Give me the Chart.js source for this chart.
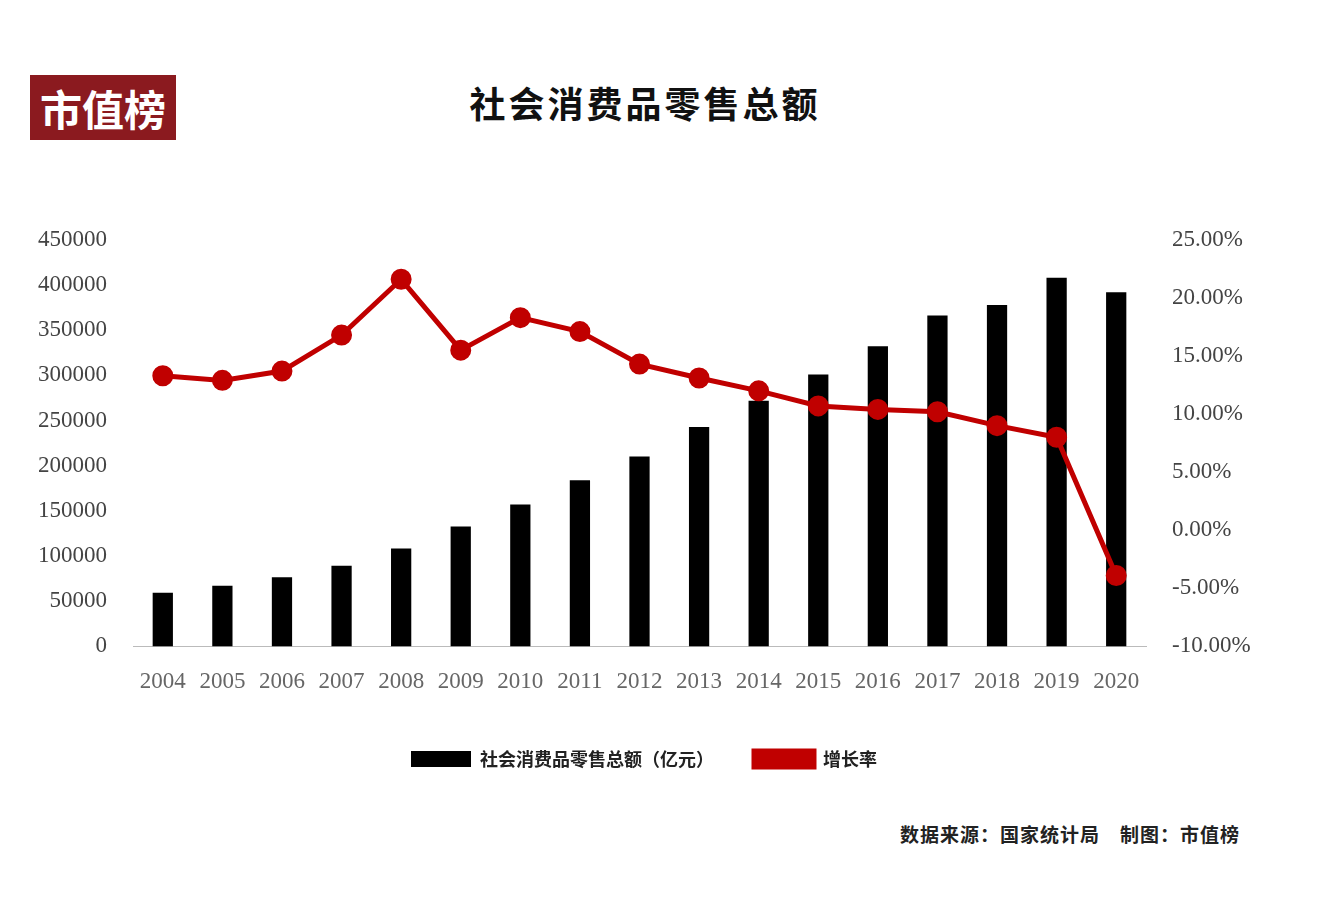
<!DOCTYPE html>
<html><head><meta charset="utf-8">
<script src="https://cdn.jsdelivr.net/npm/chart.js@4/dist/chart.umd.min.js"></script>
<style>
body{margin:0;background:#fff;width:1328px;height:924px;position:relative;overflow:hidden;font-family:"Noto Sans CJK SC",sans-serif}
#logo{position:absolute;left:30px;top:75px;width:146px;height:65px;background:#8b1a1f;color:#fff;font-size:42px;line-height:65px;text-align:center;font-weight:bold}
#title{position:absolute;left:0;width:1290px;top:76px;text-align:center;font-size:36px;font-weight:bold;color:#111;letter-spacing:3px}
#src{position:absolute;right:88px;top:820px;font-size:19px;font-weight:bold;color:#222;letter-spacing:1px}
#wrap{position:absolute;left:0;top:208px;width:1328px;height:570px}
</style></head><body>
<div id="logo">市值榜</div>
<div id="title">社会消费品零售总额</div>
<div id="src">数据来源：国家统计局　制图：市值榜</div>
<div id="wrap"><canvas id="c"></canvas></div>
<script>
const years=['2004','2005','2006','2007','2008','2009','2010','2011','2012','2013','2014','2015','2016','2017','2018','2019','2020']
const retail=[59501,67177,76410,89210,108488,132678,156998,183919,210307,242843,271896,300931,332316,366262,377783,408017,391981]
const growth=[13.3,12.9,13.7,16.8,21.6,15.5,18.3,17.1,14.3,13.1,12.0,10.7,10.4,10.2,9.0,8.0,-3.9]

new Chart(document.getElementById('c'),{
  type:'bar',
  data:{labels:years,datasets:[
    {type:'line',label:'增长率',data:growth,yAxisID:'y2',borderColor:'#c00000',backgroundColor:'#c00000',borderWidth:5,pointRadius:8,pointBackgroundColor:'#c00000',order:0},
    {label:'社会消费品零售总额（亿元）',data:retail,yAxisID:'y',backgroundColor:'#000',barPercentage:0.34,categoryPercentage:1,order:1}
  ]},
  options:{responsive:true,maintainAspectRatio:false,animation:false,
    layout:{padding:{left:22,right:62,top:5}},
    plugins:{legend:{position:'bottom',reverse:true,labels:{font:{family:'Noto Sans CJK SC',size:18,weight:'bold'},color:'#222',boxWidth:60,boxHeight:16,padding:40}}},
    scales:{
      x:{grid:{display:false},border:{color:'#bbb'},ticks:{font:{family:'Liberation Serif',size:23},color:'#666',maxRotation:0,autoSkip:false,padding:14}},
      y:{min:0,max:450000,afterFit:a=>{a.width=111},ticks:{stepSize:50000,callback:v=>String(v),font:{family:'Liberation Serif',size:23},color:'#444',padding:18},grid:{display:false},border:{display:false}},
      y2:{position:'right',min:-10,max:25,afterFit:a=>{a.width=120},ticks:{stepSize:5,callback:v=>v.toFixed(2)+'%',font:{family:'Liberation Serif',size:23},color:'#444',padding:18},grid:{display:false},border:{display:false}}
    }}
})
</script></body></html>
